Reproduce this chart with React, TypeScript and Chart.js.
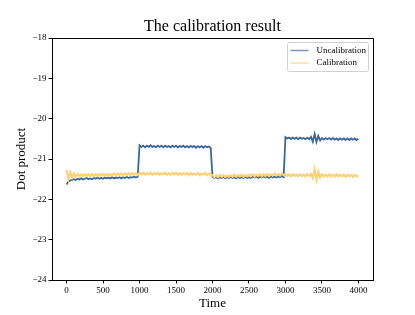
import React, { useEffect, useRef } from "react";
import { Chart, registerables } from "chart.js";

Chart.register(...registerables);

const FONT = "'Liberation Serif', 'Times New Roman', 'DejaVu Serif', serif";

const TITLE = "The calibration result";
const X_LABEL = "Time";
const Y_LABEL = "Dot product";
const SERIES_NAMES = ["Uncalibration", "Calibration"];

const X_TICKS = [0, 500, 1000, 1500, 2000, 2500, 3000, 3500, 4000];
const Y_TICKS = [-24, -23, -22, -21, -20, -19, -18];

const TIME = [
  0, 25, 50, 75, 100, 125, 150, 175, 200, 225,
  250, 275, 300, 325, 350, 375, 400, 425, 450, 475,
  500, 525, 550, 575, 600, 625, 650, 675, 700, 725,
  750, 775, 800, 825, 850, 875, 900, 925, 950, 975,
  1000, 1025, 1050, 1075, 1100, 1125, 1150, 1175, 1200, 1225,
  1250, 1275, 1300, 1325, 1350, 1375, 1400, 1425, 1450, 1475,
  1500, 1525, 1550, 1575, 1600, 1625, 1650, 1675, 1700, 1725,
  1750, 1775, 1800, 1825, 1850, 1875, 1900, 1925, 1950, 1975,
  2000, 2025, 2050, 2075, 2100, 2125, 2150, 2175, 2200, 2225,
  2250, 2275, 2300, 2325, 2350, 2375, 2400, 2425, 2450, 2475,
  2500, 2525, 2550, 2575, 2600, 2625, 2650, 2675, 2700, 2725,
  2750, 2775, 2800, 2825, 2850, 2875, 2900, 2925, 2950, 2975,
  3000, 3025, 3050, 3075, 3100, 3125, 3150, 3175, 3200, 3225,
  3250, 3275, 3300, 3325, 3350, 3375, 3400, 3425, 3450, 3475,
  3500, 3525, 3550, 3575, 3600, 3625, 3650, 3675, 3700, 3725,
  3750, 3775, 3800, 3825, 3850, 3875, 3900, 3925, 3950, 3975,
  4000,
];

const UNCALIBRATION = [
  -21.63, -21.56, -21.53, -21.52, -21.50, -21.52, -21.49, -21.51, -21.48, -21.51,
  -21.49, -21.47, -21.50, -21.48, -21.50, -21.47, -21.49, -21.46, -21.49, -21.47,
  -21.49, -21.46, -21.48, -21.46, -21.48, -21.45, -21.48, -21.46, -21.47, -21.45,
  -21.48, -21.45, -21.47, -21.44, -21.47, -21.45, -21.46, -21.44, -21.46, -21.44,
  -20.66, -20.70, -20.67, -20.71, -20.67, -20.70, -20.66, -20.70, -20.68, -20.71,
  -20.67, -20.70, -20.67, -20.71, -20.67, -20.70, -20.68, -20.71, -20.67, -20.70,
  -20.67, -20.71, -20.68, -20.70, -20.67, -20.71, -20.68, -20.71, -20.68, -20.70,
  -20.68, -20.72, -20.68, -20.71, -20.68, -20.72, -20.68, -20.71, -20.69, -20.72,
  -21.44, -21.47, -21.45, -21.48, -21.45, -21.47, -21.44, -21.48, -21.45, -21.47,
  -21.44, -21.47, -21.45, -21.48, -21.44, -21.47, -21.45, -21.47, -21.44, -21.47,
  -21.45, -21.47, -21.44, -21.46, -21.43, -21.47, -21.44, -21.46, -21.43, -21.46,
  -21.44, -21.47, -21.43, -21.46, -21.44, -21.46, -21.43, -21.45, -21.42, -21.45,
  -20.46, -20.49, -20.47, -20.50, -20.47, -20.50, -20.47, -20.51, -20.47, -20.50,
  -20.48, -20.51, -20.47, -20.51, -20.45, -20.57, -20.38, -20.58, -20.43, -20.54,
  -20.48, -20.52, -20.48, -20.51, -20.48, -20.52, -20.48, -20.52, -20.49, -20.53,
  -20.49, -20.52, -20.49, -20.53, -20.49, -20.53, -20.49, -20.52, -20.49, -20.53,
  -20.50,
];

const CALIBRATION = [
  -21.27, -21.50, -21.33, -21.46, -21.36, -21.44, -21.37, -21.43, -21.38, -21.43,
  -21.38, -21.42, -21.38, -21.42, -21.38, -21.42, -21.38, -21.42, -21.37, -21.41,
  -21.37, -21.41, -21.37, -21.41, -21.37, -21.41, -21.36, -21.40, -21.36, -21.40,
  -21.36, -21.40, -21.36, -21.40, -21.35, -21.39, -21.35, -21.39, -21.35, -21.39,
  -21.34, -21.38, -21.34, -21.39, -21.35, -21.38, -21.34, -21.39, -21.35, -21.38,
  -21.34, -21.39, -21.35, -21.38, -21.34, -21.39, -21.35, -21.39, -21.35, -21.38,
  -21.34, -21.39, -21.35, -21.39, -21.35, -21.38, -21.35, -21.40, -21.35, -21.39,
  -21.36, -21.39, -21.35, -21.40, -21.36, -21.39, -21.35, -21.40, -21.36, -21.39,
  -21.40, -21.45, -21.41, -21.45, -21.40, -21.44, -21.40, -21.45, -21.41, -21.44,
  -21.40, -21.44, -21.39, -21.44, -21.40, -21.43, -21.39, -21.44, -21.40, -21.43,
  -21.39, -21.43, -21.38, -21.43, -21.39, -21.42, -21.38, -21.43, -21.38, -21.42,
  -21.37, -21.42, -21.38, -21.41, -21.36, -21.41, -21.37, -21.41, -21.36, -21.40,
  -21.38, -21.42, -21.38, -21.43, -21.38, -21.42, -21.39, -21.43, -21.38, -21.42,
  -21.39, -21.43, -21.38, -21.42, -21.37, -21.47, -21.26, -21.51, -21.32, -21.46,
  -21.38, -21.43, -21.39, -21.43, -21.38, -21.43, -21.39, -21.43, -21.38, -21.43,
  -21.39, -21.43, -21.39, -21.44, -21.39, -21.43, -21.39, -21.44, -21.39, -21.43,
  -21.41,
];

const X_MIN = -200;
const X_MAX = 4200;
const Y_MIN = -24;
const Y_MAX = -18;

const BLUE = "rgb(55,103,155)";
const YELLOW = "rgb(255,209,120)";
const BLUE_LEGEND = "rgb(118,150,192)";
const YELLOW_LEGEND = "rgb(255,222,160)";

const minus = (v: number | string) => String(v).replace("-", "\u2212");

const frameAndLegend = {
  id: "frameAndLegend",
  afterDatasetsDraw(chart: any) {
    const { ctx, chartArea: a } = chart;
    ctx.save();
    ctx.strokeStyle = "#000";
    ctx.lineWidth = 1;
    ctx.beginPath();
    ctx.moveTo(Math.round(a.left) + 0.5, Math.round(a.top) + 0.5);
    ctx.lineTo(Math.round(a.right) + 0.5, Math.round(a.top) + 0.5);
    ctx.lineTo(Math.round(a.right) + 0.5, Math.round(a.bottom) + 0.5);
    ctx.stroke();

    const w = 81;
    const h = 29;
    const x = Math.round(a.right) - 5 - w + 0.5;
    const y = Math.round(a.top) + 4 + 0.5;
    const r = 2;
    ctx.beginPath();
    ctx.moveTo(x + r, y);
    ctx.lineTo(x + w - r, y);
    ctx.quadraticCurveTo(x + w, y, x + w, y + r);
    ctx.lineTo(x + w, y + h - r);
    ctx.quadraticCurveTo(x + w, y + h, x + w - r, y + h);
    ctx.lineTo(x + r, y + h);
    ctx.quadraticCurveTo(x, y + h, x, y + h - r);
    ctx.lineTo(x, y + r);
    ctx.quadraticCurveTo(x, y, x + r, y);
    ctx.closePath();
    ctx.fillStyle = "rgba(255,255,255,0.85)";
    ctx.fill();
    ctx.strokeStyle = "#d0d0d0";
    ctx.stroke();

    const colors = [BLUE_LEGEND, YELLOW_LEGEND];
    ctx.font = `9px ${FONT}`;
    ctx.textBaseline = "middle";
    ctx.textAlign = "left";
    chart.data.datasets.forEach((ds: any, i: number) => {
      const yy = y + 8 + i * 12.5;
      ctx.strokeStyle = colors[i];
      ctx.lineWidth = 1.5;
      ctx.beginPath();
      ctx.moveTo(x + 3, yy);
      ctx.lineTo(x + 21, yy);
      ctx.stroke();
      ctx.fillStyle = "#000";
      ctx.fillText(ds.label, x + 29, yy);
    });
    ctx.restore();
  },
};

export default function App() {
  const ref = useRef<HTMLCanvasElement>(null);

  useEffect(() => {
    if (!ref.current) return;
    Chart.defaults.color = "#000";
    const chart = new Chart(ref.current, {
      type: "line",
      data: {
        datasets: [
          {
            label: SERIES_NAMES[0],
            data: TIME.map((t, i) => ({ x: t, y: UNCALIBRATION[i] })),
            borderColor: BLUE,
            borderWidth: 1.8,
            pointRadius: 0,
            tension: 0,
            order: 1,
          },
          {
            label: SERIES_NAMES[1],
            data: TIME.map((t, i) => ({ x: t, y: CALIBRATION[i] })),
            borderColor: YELLOW,
            borderWidth: 2.2,
            pointRadius: 0,
            tension: 0,
            order: 0,
          },
        ],
      },
      options: {
        responsive: false,
        devicePixelRatio: 1,
        animation: false,
        events: [],
        layout: { padding: { left: 0, right: 42, top: 0, bottom: 0 } },
        plugins: {
          legend: { display: false },
          tooltip: { enabled: false },
          title: {
            display: true,
            fullSize: false,
            text: TITLE,
            color: "#000",
            font: { family: FONT, size: 16, weight: "normal" },
            padding: { top: 17, bottom: 1.8 },
          },
        },
        scales: {
          x: {
            type: "linear",
            min: X_MIN,
            max: X_MAX,
            afterFit: (s: any) => {
              s.height = 35;
            },
            afterBuildTicks: (s: any) => {
              s.ticks = X_TICKS.map((v) => ({ value: v }));
            },
            ticks: {
              maxRotation: 0,
              autoSkip: false,
              padding: 2,
              font: { family: FONT, size: 9 },
              color: "#000",
              callback: (v: any) => minus(v),
            },
            grid: {
              display: true,
              drawOnChartArea: false,
              drawTicks: true,
              tickLength: 3.5,
              tickColor: "#000",
              tickWidth: 1,
            },
            border: { display: true, color: "#000", width: 1 },
            title: {
              display: true,
              text: X_LABEL,
              color: "#000",
              font: { family: FONT, size: 13 },
              padding: { top: 0, bottom: 4 },
            },
          },
          y: {
            type: "linear",
            min: Y_MIN,
            max: Y_MAX,
            afterFit: (s: any) => {
              s.width = 52;
            },
            afterBuildTicks: (s: any) => {
              s.ticks = Y_TICKS.map((v) => ({ value: v }));
            },
            ticks: {
              autoSkip: false,
              padding: 2,
              font: { family: FONT, size: 9 },
              color: "#000",
              callback: (v: any) => minus(v),
            },
            grid: {
              display: true,
              drawOnChartArea: false,
              drawTicks: true,
              tickLength: 3.5,
              tickColor: "#000",
              tickWidth: 1,
            },
            border: { display: true, color: "#000", width: 1 },
            title: {
              display: true,
              text: Y_LABEL,
              color: "#000",
              font: { family: FONT, size: 13 },
              padding: { top: 14, bottom: 0 },
            },
          },
        },
      },
      plugins: [frameAndLegend],
    } as any);
    return () => chart.destroy();
  }, []);

  return (
    <div
      style={{
        position: "absolute",
        left: 0,
        top: 0,
        width: 415,
        height: 315,
        background: "#fff",
      }}
    >
      <canvas ref={ref} width={415} height={315} style={{ display: "block" }} />
    </div>
  );
}
